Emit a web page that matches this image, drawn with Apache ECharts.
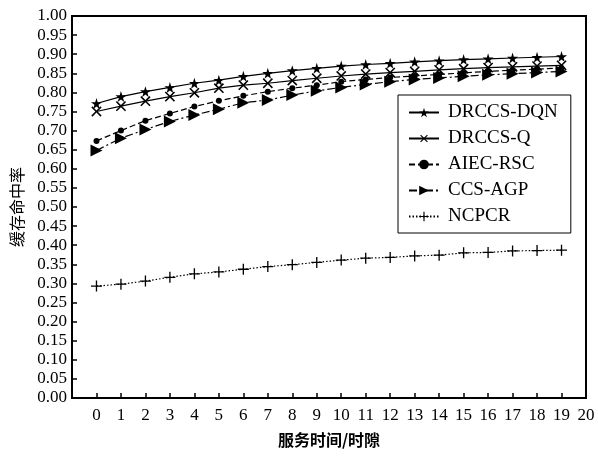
<!DOCTYPE html>
<html>
<head>
<meta charset="utf-8">
<script src="https://cdn.jsdelivr.net/npm/echarts@6/dist/echarts.min.js"></script>
<style>
  html, body { margin: 0; padding: 0; background: #fff; }
  #chart { width: 598px; height: 456px; }
</style>
</head>
<body>
<div id="chart"></div>
<script>
// service time slots
const slots = [0, 1, 2, 3, 4, 5, 6, 7, 8, 9, 10, 11, 12, 13, 14, 15, 16, 17, 18, 19]
const seriesNames = ['DRCCS-DQN', 'DRCCS-Q', 'AIEC-RSC', 'CCS-AGP', 'NCPCR']
// cache hit ratio
const drccsDqn = [0.771, 0.789, 0.802, 0.813, 0.824, 0.832, 0.842, 0.850, 0.857, 0.863, 0.869, 0.873, 0.876, 0.880, 0.883, 0.886, 0.888, 0.890, 0.892, 0.894]
const drccsQ = [0.750, 0.764, 0.777, 0.789, 0.799, 0.811, 0.819, 0.824, 0.831, 0.837, 0.843, 0.848, 0.852, 0.855, 0.859, 0.862, 0.865, 0.867, 0.869, 0.871]
const aiecRsc = [0.673, 0.700, 0.726, 0.745, 0.763, 0.778, 0.791, 0.802, 0.811, 0.819, 0.828, 0.834, 0.839, 0.843, 0.847, 0.851, 0.855, 0.858, 0.861, 0.864]
const ccsAgp = [0.648, 0.680, 0.703, 0.724, 0.741, 0.756, 0.773, 0.780, 0.793, 0.804, 0.813, 0.821, 0.828, 0.834, 0.838, 0.842, 0.846, 0.849, 0.852, 0.855]
const ncpcr = [0.293, 0.298, 0.306, 0.316, 0.325, 0.330, 0.337, 0.344, 0.349, 0.355, 0.361, 0.366, 0.368, 0.372, 0.374, 0.380, 0.381, 0.385, 0.386, 0.387]

const font = 'Liberation Serif'
const starPath = 'path://M50,0L61,35H98L68,57L79,91L50,70L21,91L32,57L2,35H39Z'
const plusPath = 'path://M8.8,0H11.2V8.8H20V11.2H11.2V20H8.8V11.2H0V8.8H8.8Z'

function pairs(vals) {
  return slots.map((s, i) => [s, vals[i]])
}

function makeLine(name, vals, symbol, size, type, extra) {
  return Object.assign({
    name: name,
    type: 'line',
    data: pairs(vals),
    symbol: symbol,
    symbolSize: size,
    showAllSymbol: true,
    animation: false,
    color: '#000',
    itemStyle: { color: '#000' },
    lineStyle: { color: '#000', width: 1.2, type: type }
  }, extra || {})
}

let chart = echarts.init(document.getElementById('chart'))
chart.setOption({
  backgroundColor: '#fff',
  animation: false,
  grid: {
    left: 72,
    right: 12,
    top: 16,
    bottom: 58,
    outerBoundsMode: 'none',
    show: true,
    borderColor: '#000',
    borderWidth: 2
  },
  legend: {
    data: seriesNames,
    orient: 'vertical', // stacked in a box
    left: 398,
    top: 95,
    padding: [8, 13, 7, 10],
    itemGap: 7,
    itemWidth: 30,
    itemHeight: 12,
    borderColor: '#000',
    borderWidth: 1,
    backgroundColor: '#fff',
    textStyle: { fontFamily: font, fontSize: 19, color: '#000', padding: [0, 0, 0, 4] }
  },
  xAxis: {
    type: 'value',
    min: -1,
    max: 20,
    interval: 1,
    name: '服务时间/时隙',
    nameLocation: 'middle',
    nameGap: 34,
    nameTextStyle: { fontFamily: 'Noto Sans CJK SC', fontSize: 16, fontWeight: 'bold', color: '#000' },
    splitLine: { show: false },
    axisLine: { lineStyle: { color: '#000', width: 2 } },
    axisTick: { inside: true, length: 5, lineStyle: { color: '#000', width: 1.5 } },
    axisLabel: {
      fontFamily: font,
      fontSize: 17,
      color: '#000',
      margin: 9,
      formatter: function(v) {
        return v < 0 ? '' : v
      }
    }
  },
  yAxis: {
    type: 'value',
    min: 0,
    max: 1,
    interval: 0.05,
    name: '缓存命中率',
    nameLocation: 'middle',
    nameGap: 47,
    nameTextStyle: { fontFamily: 'Noto Sans CJK SC', fontSize: 16, color: '#000' },
    splitLine: { show: false },
    axisLine: { onZero: false, lineStyle: { color: '#000', width: 2 } },
    axisTick: { inside: true, length: 5, lineStyle: { color: '#000', width: 1.5 } },
    axisLabel: {
      fontFamily: font,
      fontSize: 17,
      color: '#000',
      margin: 5,
      formatter: function(v) {
        return v.toFixed(2)
      }
    }
  },
  series: [
    makeLine('DRCCS-DQN', drccsDqn, starPath, 11, 'solid'),
    makeLine('DRCCS-Q', drccsQ, plusPath, 13, 'solid', { symbolRotate: 45 }),
    makeLine('AIEC-RSC', aiecRsc, 'circle', 6, [6, 3]),
    makeLine('CCS-AGP', ccsAgp, 'triangle', 12, [8, 3, 2, 3], { symbolRotate: -90 }),
    makeLine('NCPCR', ncpcr, plusPath, 11, [1.5, 2])
  ]
})
</script>
</body>
</html>
